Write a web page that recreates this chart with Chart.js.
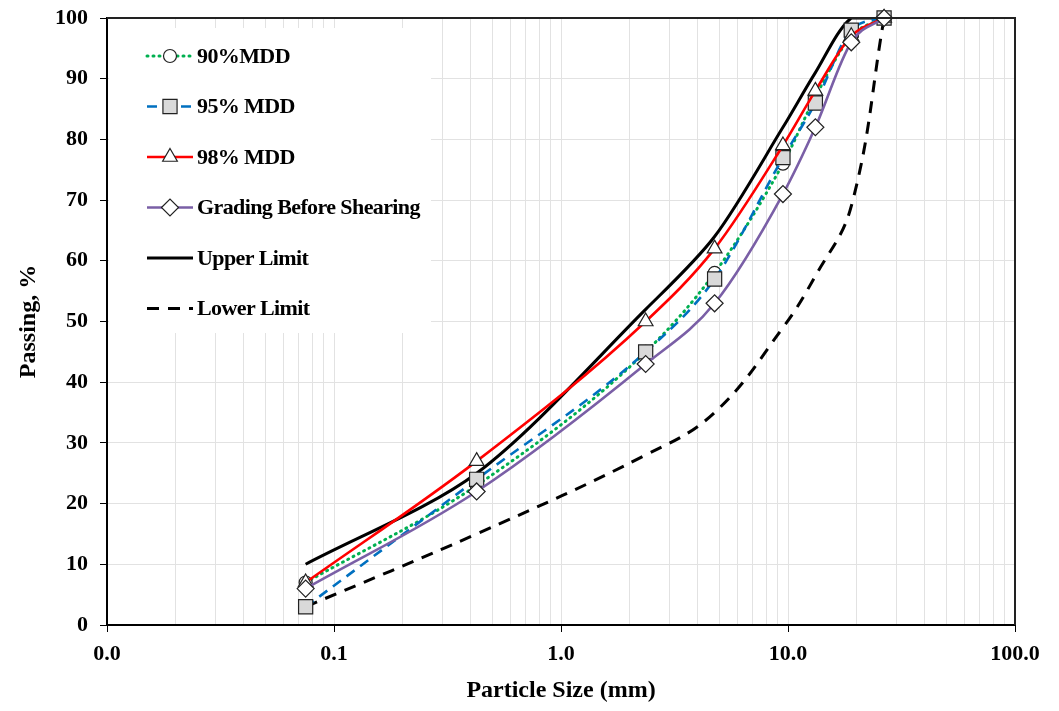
<!DOCTYPE html>
<html>
<head>
<meta charset="utf-8">
<script src="https://cdn.jsdelivr.net/npm/chart.js@4.4.1/dist/chart.umd.min.js"></script>
<style>
  html, body { margin: 0; padding: 0; background: #fff; }
  canvas { display: block; }
</style>
</head>
<body>
<canvas id="myChart" width="1059" height="711"></canvas>
<script>
// sieve sizes (mm) and % passing
const sizes = [0.075, 0.425, 2.36, 4.75, 9.5, 13.2, 19, 26.5];
const mdd90 = [7, 23, 45, 58, 76, 87, 97, 100];
const mdd95 = [3, 24, 45, 57, 77, 86, 98, 100];
const mdd98 = [7, 27, 50, 62, 79, 88, 97, 100];
const beforeShear = [6, 22, 43, 53, 71, 82, 96, 100];
const upperLimit = [10, 25, 52, 64, 82, 91, 100, 100];
const lowerLimit = [3, 15, 28, 35, 49, 57.5, 69, 100];
const xTickValues = [0.01, 0.1, 1, 10, 100];

const serif = "'Liberation Serif', 'Times New Roman', serif";

function pts(vals) {
    return sizes.map(function (s, i) { return { x: s, y: vals[i] }; });
}
function isMajor(v) {
    const l = Math.log10(v);
    return Math.abs(l - Math.round(l)) < 1e-9;
}

// legend drawn inside the plot, top left
const insideLegend = {
    id: 'insideLegend',
    afterDatasetsDraw(chart) {
        const ctx = chart.ctx;
        const area = chart.chartArea;
        ctx.save();
        ctx.fillStyle = '#fff';
        ctx.fillRect(area.left + 2, 28, 322, 305);
        chart.data.datasets.forEach(function (ds, i) {
            const y = 56 + i * 50.5;
            ctx.save();
            ctx.strokeStyle = ds.borderColor;
            ctx.lineWidth = ds.borderWidth;
            ctx.lineCap = ds.borderCapStyle || 'butt';
            ctx.setLineDash(ds.borderDash || []);
            ctx.beginPath();
            ctx.moveTo(147, y);
            ctx.lineTo(193, y);
            ctx.stroke();
            ctx.restore();
            if (ds.pointRadius > 0) {
                ctx.save();
                ctx.fillStyle = ds.pointBackgroundColor;
                ctx.strokeStyle = ds.pointBorderColor;
                ctx.lineWidth = ds.pointBorderWidth;
                Chart.helpers.drawPoint(ctx, {
                    pointStyle: ds.pointStyle, radius: ds.pointRadius,
                    rotation: 0, borderWidth: ds.pointBorderWidth
                }, 170, y);
                ctx.restore();
            }
            ctx.fillStyle = '#000';
            ctx.font = 'bold 22px ' + serif;
            ctx.letterSpacing = '-0.6px';
            ctx.textBaseline = 'middle';
            ctx.textAlign = 'left';
            ctx.fillText(ds.label, 197, y + 1);
        });
        ctx.restore();
    },
    afterDraw(chart) {
        const ctx = chart.ctx;
        const a = chart.chartArea;
        ctx.save();
        ctx.strokeStyle = '#222';
        ctx.lineWidth = 2;
        ctx.beginPath();
        ctx.moveTo(a.left, a.top);
        ctx.lineTo(a.right, a.top);
        ctx.lineTo(a.right, a.bottom);
        ctx.stroke();
        ctx.restore();
    }
};

function series(label, vals, color, dash, width, style, radius, fill, order, cap) {
    return {
        label: label,
        data: pts(vals),
        showLine: true,
        clip: false,
        borderColor: color,
        borderWidth: width,
        borderDash: dash,
        borderCapStyle: cap || 'butt',
        cubicInterpolationMode: 'monotone',
        pointStyle: style,
        pointRadius: radius,
        pointHoverRadius: radius,
        pointBackgroundColor: fill,
        pointBorderColor: '#222',
        pointBorderWidth: 1.2,
        order: order
    };
}

const upperSet = series('Upper Limit', upperLimit, '#000', [], 3, 'circle', 0, '#fff', 4);
upperSet.cubicInterpolationMode = 'default';
upperSet.tension = 0.3;
upperSet.clip = { left: 10, top: 0, right: 10, bottom: 10 };

const lowerSet = series('Lower Limit', lowerLimit, '#000', [12, 9], 3, 'circle', 0, '#fff', 5);
lowerSet.cubicInterpolationMode = 'default';
lowerSet.tension = 0.4;

const ctx = document.getElementById('myChart');
new Chart(ctx, {
    type: 'scatter',
    data: {
        datasets: [
            series('90%MDD', mdd90, '#00B050', [1, 5], 3, 'circle', 6.5, '#fff', 3, 'round'),
            series('95% MDD', mdd95, '#0070C0', [10, 7], 2.6, 'rect', 10, '#D9D9D9', 2),
            series('98% MDD', mdd98, '#FF0000', [], 2.6, 'triangle', 8.5, '#fff', 1),
            series('Grading Before Shearing', beforeShear, '#7A5FA6', [], 2.6, 'rectRot', 8.5, '#fff', 0),
            upperSet,
            lowerSet
        ]
    },
    options: {
        responsive: false,
        animation: false,
        devicePixelRatio: 1,
        layout: { padding: { left: 0, right: 44, top: 18, bottom: 0 } },
        plugins: {
            legend: { display: false },
            tooltip: { enabled: false }
        },
        scales: {
            x: {
                type: 'logarithmic',
                min: 0.01,
                max: 100,
                afterBuildTicks: function (scale) {
                    const t = [];
                    for (let d = 0; d < xTickValues.length - 1; d++) {
                        for (let m = 1; m <= 9; m++) {
                            t.push({ value: +(xTickValues[d] * m).toPrecision(6) });
                        }
                    }
                    t.push({ value: xTickValues[xTickValues.length - 1] });
                    scale.ticks = t;
                },
                afterFit: function (scale) {
                    scale.height = 86;
                    scale.paddingLeft = 0;
                    scale.paddingRight = 0;
                },
                ticks: {
                    autoSkip: false,
                    maxRotation: 0,
                    padding: 9,
                    color: '#000',
                    font: { family: serif, weight: 'bold', size: 22 },
                    callback: function (v) { return isMajor(v) ? Number(v).toFixed(1) : ''; }
                },
                grid: {
                    color: '#E2E2E2',
                    lineWidth: 1,
                    tickLength: 7,
                    tickColor: function (c) {
                        return c.tick && isMajor(c.tick.value) ? '#000' : 'rgba(0,0,0,0)';
                    }
                },
                border: { display: true, color: '#000', width: 2 },
                title: {
                    display: true,
                    text: 'Particle Size (mm)',
                    color: '#000',
                    font: { family: serif, weight: 'bold', size: 24 },
                    padding: { top: 0, bottom: 6 }
                }
            },
            y: {
                min: 0,
                max: 100,
                afterFit: function (scale) {
                    scale.width = 107;
                    scale.paddingTop = 0;
                    scale.paddingBottom = 0;
                },
                ticks: {
                    stepSize: 10,
                    padding: 12,
                    color: '#000',
                    font: { family: serif, weight: 'bold', size: 22 }
                },
                grid: {
                    color: '#E2E2E2',
                    lineWidth: 1,
                    tickLength: 7,
                    tickColor: '#000'
                },
                border: { display: true, color: '#000', width: 2 },
                title: {
                    display: true,
                    text: 'Passing, %',
                    color: '#000',
                    font: { family: serif, weight: 'bold', size: 24 },
                    padding: { top: 14, bottom: 0 }
                }
            }
        }
    },
    plugins: [insideLegend]
});
</script>
</body>
</html>
